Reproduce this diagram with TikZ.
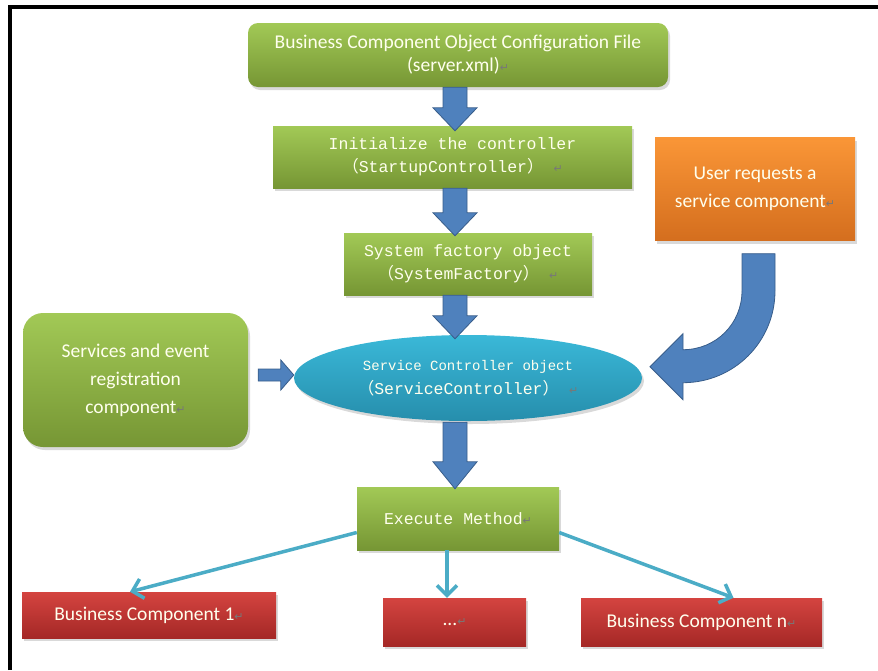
\documentclass[tikz,border=0pt]{standalone}
\usepackage{fontspec}
\setmainfont{Carlito}
\newfontfamily\codefont{Liberation Mono}
\newfontfamily\cjkfont{Noto Sans CJK SC}
\newfontfamily\symfont{DejaVu Sans}
\usetikzlibrary{calc,shadows,shapes.geometric,arrows.meta}

\definecolor{greentop}{RGB}{162,201,86}
\definecolor{greenbot}{RGB}{118,150,52}
\definecolor{orangetop}{RGB}{250,150,55}
\definecolor{orangebot}{RGB}{212,110,30}
\definecolor{redtop}{RGB}{212,68,64}
\definecolor{redbot}{RGB}{165,40,38}
\definecolor{cyantop}{RGB}{58,184,216}
\definecolor{cyanbot}{RGB}{38,142,172}
\definecolor{arrowblue}{RGB}{79,129,189}
\definecolor{arrowedge}{RGB}{56,93,138}
\definecolor{linkblue}{RGB}{75,172,198}
\definecolor{retgray}{RGB}{120,120,120}
\definecolor{textwhite}{RGB}{255,255,238}

\newcommand{\retmark}{{\symfont\fontsize{11}{11}\selectfont\textcolor{retgray}{↵}}}
\newcommand{\wpar}[1]{{\cjkfont #1}}
\newcommand{\caltext}{\fontsize{19.5}{23}\selectfont}
\newcommand{\codetext}{\codefont\fontsize{16.5}{23}\selectfont}

\tikzset{
    box/.style={draw=none, text=textwhite, align=center, inner sep=0pt,
        drop shadow={opacity=0.3, shadow xshift=2pt, shadow yshift=-3pt}},
    greenbox/.style={box, top color=greentop, bottom color=greenbot},
    orangebox/.style={box, top color=orangetop, bottom color=orangebot},
    redbox/.style={box, top color=redtop, bottom color=redbot, font=\caltext},
    link/.style={draw=linkblue, line width=3.5pt,
        -{Straight Barb[length=10pt, width=20pt]}},
    blockarrow/.style n args={3}{draw=arrowedge, fill=arrowblue, line width=0.8pt,
        to path={
            ($(\tikztostart)!#1pt!90:(\tikztotarget)$) --
            ($($(\tikztotarget)!#3pt!(\tikztostart)$)!#1pt!-90:(\tikztostart)$) --
            ($($(\tikztotarget)!#3pt!(\tikztostart)$)!#2pt!-90:(\tikztostart)$) --
            (\tikztotarget) --
            ($($(\tikztotarget)!#3pt!(\tikztostart)$)!#2pt!90:(\tikztostart)$) --
            ($($(\tikztotarget)!#3pt!(\tikztostart)$)!#1pt!90:(\tikztostart)$) --
            ($(\tikztostart)!#1pt!-90:(\tikztotarget)$) -- cycle}},
    bendarrow/.style={draw=arrowedge, fill=arrowblue, line width=0.8pt}
}

\begin{document}
\begin{tikzpicture}[x=1pt, y=-1pt]
    \useasboundingbox (0,0) rectangle (878,670);
    \draw[line width=4pt] (10,670) -- (10,6.5) -- (878,6.5);

    % main column
    \node[greenbox, rounded corners=10pt, minimum width=420pt, minimum height=64pt, font=\caltext]
        (cfg) at (458,55) {Business Component Object Configuration File\\(server.xml)\retmark};
    \node[greenbox, minimum width=359pt, minimum height=62pt, font=\codetext]
        (init) at (452.5,157) {Initialize the controller\\\wpar{（}StartupController\wpar{）} \retmark};
    \node[greenbox, minimum width=248pt, minimum height=62pt, font=\codetext]
        (sysf) at (468,264) {System factory object\\\wpar{（}SystemFactory\wpar{）} \retmark};
    \node[box, ellipse, top color=cyantop, bottom color=cyanbot, minimum width=348pt, minimum height=86pt, font=\codefont]
        (ctrl) at (468,378) {{\fontsize{14}{22}\selectfont Service Controller object}\\[6pt]
        {\fontsize{16.5}{24}\selectfont\wpar{（}ServiceController\wpar{）} \retmark}};
    \node[greenbox, minimum width=202pt, minimum height=63pt, font=\codetext]
        (exec) at (458,518.5) {Execute Method\retmark};

    % side boxes
    \node[greenbox, rounded corners=20pt, minimum width=225pt, minimum height=134pt, font=\fontsize{19.5}{28}\selectfont]
        (reg) at (135.5,380) {Services and event\\registration\\component\retmark};
    \node[orangebox, minimum width=200pt, minimum height=103pt, font=\fontsize{19.5}{28}\selectfont]
        (user) at (755,189) {User requests a\\service component\retmark};

    % business components
    \node[redbox, minimum width=254pt, minimum height=46pt] (bc1) at (149,615) {Business Component 1\retmark};
    \node[redbox, minimum width=143pt, minimum height=48pt] (dots) at (454.5,622) {...\retmark};
    \node[redbox, minimum width=241pt, minimum height=48pt] (bcn) at (701.5,622) {Business Component n\retmark};

    % block arrows
    \coordinate (axis) at (455,0);
    \draw[blockarrow={12}{22}{23}] (cfg.south -| axis) to ($(init.north -| axis)+(0,5)$);
    \draw[blockarrow={12}{22}{23}] (init.south -| axis) to ($(sysf.north -| axis)+(0,3)$);
    \draw[blockarrow={12}{22}{23}] (sysf.south -| axis) to ($(ctrl.north -| axis)+(0,4)$);
    \draw[blockarrow={12}{22}{27}] ($(ctrl.south -| axis)+(0,1)$) to ($(exec.north -| axis)+(0,2)$);
    \draw[blockarrow={6}{15}{13}] ($(reg.east)+(10,-5)$) to ($(ctrl.west)+(0,-3)$);
    \begin{scope}[shift={(user.south)}]
        \draw[bendarrow] (-13,13) -- (20,13) -- (20,50)
            .. controls (20,101) and (-21,142) .. (-72,142) -- (-72,159) -- (-105,126)
            -- (-72,93) -- (-72,109) .. controls (-39,109) and (-13,83) .. (-13,50) -- cycle;
    \end{scope}

    % links to components
    \draw[link] ([yshift=-14pt]exec.west) -- ([xshift=-19pt]bc1.north);
    \draw[link] ([xshift=-11pt]exec.south) -- ([xshift=-7.5pt]dots.north);
    \draw[link] ([yshift=-14pt]exec.east) -- ([xshift=32pt]bcn.north);
\end{tikzpicture}
\end{document}
